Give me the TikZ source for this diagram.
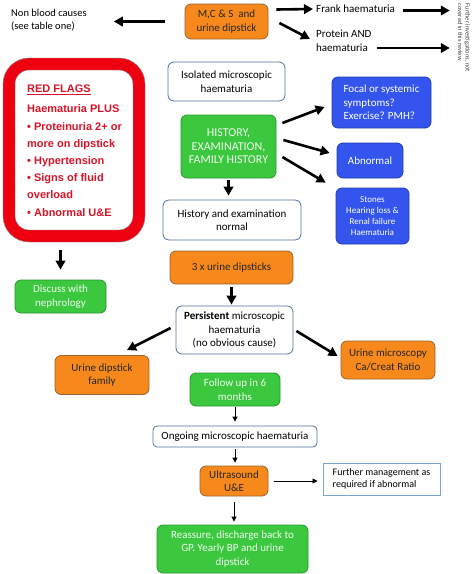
\documentclass[tikz,border=0pt]{standalone}
\usepackage{fontspec}
\setmainfont{Carlito}
\newfontfamily\arialfont{Liberation Sans}
\usetikzlibrary{arrows.meta}
\definecolor{orfill}{RGB}{247,137,28}
\definecolor{ordraw}{RGB}{150,100,50}
\definecolor{grfill}{RGB}{60,200,62}
\definecolor{grdraw}{RGB}{40,150,50}
\definecolor{blfill}{RGB}{51,85,238}
\definecolor{bldraw}{RGB}{35,60,170}
\definecolor{wbdraw}{RGB}{80,115,160}
\definecolor{rfred}{RGB}{238,0,16}
\definecolor{rftext}{RGB}{215,20,40}
\definecolor{lighttext}{RGB}{238,250,238}
\definecolor{fmdraw}{RGB}{120,165,215}
\tikzset{
  box/.style={rounded corners=6pt, line width=0.8pt, inner sep=2pt, align=center, font=\fontsize{11}{13.5}\selectfont},
  orbox/.style={box, fill=orfill, draw=ordraw, text=black!85},
  grbox/.style={box, fill=grfill, draw=grdraw, text=lighttext},
  blbox/.style={box, fill=blfill, draw=bldraw, text=white},
  wbox/.style={box, fill=white, draw=wbdraw, text=black},
  plain/.style={inner sep=0pt, align=left, font=\fontsize{11}{13.5}\selectfont},
  bigarrow/.style={line width=2.6pt, -{Triangle[length=9pt,width=9.5pt]}},
  smallarrow/.style={line width=0.9pt, -{Triangle[length=5pt,width=5pt]}}
}
\begin{document}
\begin{tikzpicture}[x=1pt,y=-1pt]
\useasboundingbox (0,0) rectangle (474,574);
% top row
\node[orbox, minimum width=83pt, minimum height=35pt] (mcs) at (226.5,21.5) {M,C \& S\ \ and\\urine dipstick};
\node[plain, anchor=west, font=\fontsize{10.5}{13}\selectfont] (nb) at (11,20) {Non blood causes\\(see table one)};
\node[plain, anchor=west] (frank) at (316,9) {Frank haematuria};
\node[plain, anchor=west] (protein) at (316,41) {Protein AND\\haematuria};
\node[rotate=-90, inner sep=0pt, align=left, text=black!75, font=\fontsize{6.4}{7.5}\selectfont] (fi) at (464,38) {Further investigations, not\\covered in this review};
% red flags
\node[draw=rfred, line width=12pt, rounded corners=20pt, minimum width=130pt, minimum height=172pt, fill=white] (rf) at (74,150) {};
\draw[black!45, line width=0.4pt, rounded corners=26pt] (rf.north west) rectangle (rf.south east);
\draw[black!45, line width=0.4pt, rounded corners=14pt] ([shift={(12pt,-12pt)}]rf.north west) rectangle ([shift={(-12pt,12pt)}]rf.south east);
\node[anchor=north west, inner sep=0pt, align=left, text=rftext, font=\arialfont\bfseries\fontsize{11}{17.2}\selectfont] (rft) at (27,85)
  {\underline{RED FLAGS}\\[2.8pt] Haematuria PLUS\\• Proteinuria 2+ or\\more on dipstick\\• Hypertension\\• Signs of fluid\\overload\\• Abnormal U\&E};
\node[grbox, minimum width=91pt, minimum height=33pt] (discuss) at (60.5,296.5) {Discuss with\\nephrology};
% centre column
\node[wbox, minimum width=117pt, minimum height=39pt] (iso) at (226.5,81.5) {Isolated microscopic\\haematuria};
\node[grbox, minimum width=95pt, minimum height=63pt, font=\fontsize{12}{13.5}\selectfont] (hist) at (228.5,146.5) {HISTORY,\\EXAMINATION,\\FAMILY HISTORY};
\node[wbox, minimum width=138pt, minimum height=40pt] (histnorm) at (232,220) {History and examination\\normal};
\node[orbox, minimum width=123pt, minimum height=33pt] (dip3) at (231.5,267.5) {3 x urine dipsticks};
\node[wbox, minimum width=117pt, minimum height=48pt] (persist) at (234.5,330) {\textbf{Persistent} microscopic\\haematuria\\(no obvious cause)};
\node[orbox, minimum width=94pt, minimum height=39pt] (udf) at (102,375) {Urine dipstick\\family};
\node[orbox, minimum width=94pt, minimum height=38pt] (ucr) at (388,360) {Urine microscopy\\Ca/Creat Ratio};
\node[grbox, minimum width=90pt, minimum height=33pt] (fu) at (235,389.5) {Follow up in 6\\months};
\node[wbox, minimum width=164pt, minimum height=21pt, rounded corners=4pt] (ong) at (235,436.5) {Ongoing microscopic haematuria};
\node[orbox, minimum width=68pt, minimum height=30pt] (us) at (234,481) {Ultrasound\\U\&E};
\node[draw=fmdraw, line width=1pt, fill=white, inner sep=2pt, align=left, font=\fontsize{10}{12.5}\selectfont, minimum width=117pt, minimum height=32pt] (fm) at (381.5,479) {Further management as\\required if abnormal};
\node[grbox, minimum width=151pt, minimum height=48pt] (reas) at (232.5,549) {Reassure, discharge back to\\GP. Yearly BP and urine\\dipstick};
% blue boxes
\node[blbox, minimum width=99pt, minimum height=51pt, align=left] (focal) at (381.5,102.5) {Focal or systemic\\symptoms?\\Exercise? PMH?};
\node[blbox, minimum width=66pt, minimum height=35pt] (abn) at (370,160.5) {Abnormal};
\node[blbox, minimum width=73pt, minimum height=56pt, font=\fontsize{9}{11}\selectfont] (stones) at (372.5,216) {Stones\\Hearing loss \&\\Renal failure\\Haematuria};
% connectors
\draw[bigarrow, shorten >=27pt] ([xshift=-20pt]mcs.west) -- (mcs.west -| nb.east);
\draw[bigarrow] ([xshift=8pt,yshift=12pt]mcs.east) -- ([xshift=-3pt]frank.west);
\draw[bigarrow] ([xshift=11pt,yshift=-1.5pt]mcs.east) -- ([xshift=-6pt,yshift=2pt]protein.west);
\coordinate (fa) at ([xshift=8pt,yshift=-1.5pt]frank.east);
\draw[bigarrow, shorten >=8pt] (fa) -- (fa -| fi.south);
\coordinate (pa) at ([xshift=5pt,yshift=-7pt]protein.east);
\draw[bigarrow, shorten >=8pt] (pa) -- (pa -| fi.south);
\draw[bigarrow, shorten <=8pt, shorten >=10pt] (rf.south -| discuss.north) -- (discuss.north);
\draw[bigarrow, shorten <=2pt, shorten >=4pt] (hist.south) -- (hist.south |- histnorm.north);
\draw[bigarrow, shorten <=3pt, shorten >=1pt] (dip3.south) -- (dip3.south |- persist.north);
\draw[bigarrow] ([xshift=6pt,yshift=23.5pt]hist.east) -- ([xshift=-7pt,yshift=-4.5pt]focal.west);
\draw[bigarrow] ([xshift=7pt,yshift=6.5pt]hist.east) -- ([xshift=-7pt,yshift=7.5pt]abn.west);
\draw[bigarrow] ([xshift=6pt,yshift=-10.5pt]hist.east) -- ([xshift=-10pt,yshift=5pt]stones.north west);
\draw[bigarrow] ([xshift=-5pt,yshift=2pt]persist.west) -- ([xshift=25pt,yshift=5pt]udf.north);
\draw[bigarrow] ([xshift=3pt,yshift=-1pt]persist.east) -- ([xshift=-3pt,yshift=4pt]ucr.west);
\draw[smallarrow, shorten <=1pt, shorten >=4pt] (fu.south) -- (fu.south |- ong.north);
\draw[smallarrow, shorten <=2pt, shorten >=3pt] (ong.south) -- (ong.south |- us.north);
\draw[smallarrow, shorten <=6pt, shorten >=5pt] (us.east) -- (us.east -| fm.west);
\draw[smallarrow, shorten <=6pt, shorten >=3pt] (us.south) -- (us.south |- reas.north);
\end{tikzpicture}
\end{document}
